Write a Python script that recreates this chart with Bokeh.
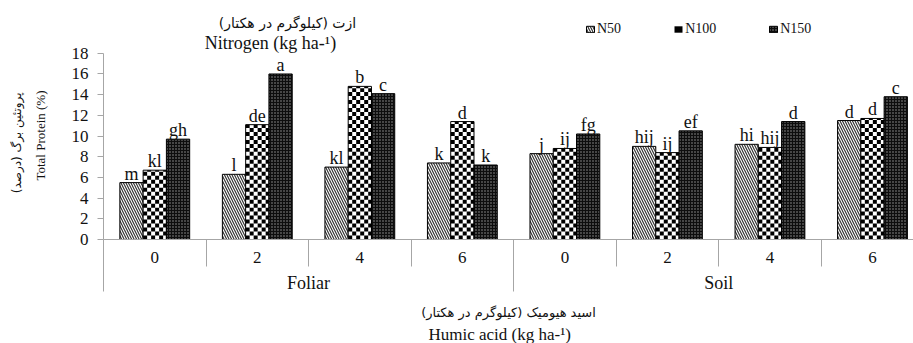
import math

from bokeh.plotting import figure
from bokeh.models import (Range1d, FixedTicker, LinearAxis, Legend, LegendItem,
                          ColumnDataSource, Title, Label)
from bokeh.core.properties import value
from bokeh.embed import file_html
from bokeh.resources import INLINE

# ---- data -------------------------------------------------------------
methods = ["Foliar", "Soil"]                      # humic acid application
doses = ["0", "2", "4", "6"]                      # humic acid rate (kg/ha)
series = ["N50", "N100", "N150"]                  # nitrogen rate

n50 = [5.5, 6.3, 7.0, 7.4, 8.3, 9.0, 9.2, 11.5]
n100 = [6.7, 11.1, 14.8, 11.4, 8.8, 8.4, 8.9, 11.7]
n150 = [9.7, 16.0, 14.1, 7.2, 10.2, 10.5, 11.4, 13.8]

let50 = ["m", "l", "kl", "k", "j", "hij", "hi", "d"]
let100 = ["kl", "de", "b", "d", "ij", "ij", "hij", "d"]
let150 = ["gh", "a", "c", "k", "fg", "ef", "d", "c"]

y_ticks = [0, 2, 4, 6, 8, 10, 12, 14, 16, 18]

# ---- layout -----------------------------------------------------------
W, H = 913, 343
FL, FR, FB = 103, 913, 240          # plot area edges (px)
Y18 = 53                            # pixel row of the 18 % tick
XMAX = 7.9
YMAX = 18
PX_PER_X = (FR - FL) / XMAX
PX_PER_Y = (FB - Y18) / YMAX
YTOP = FB / PX_PER_Y                # room above the bars for the headings

SERIF = "Liberation Serif"
PERSIAN = "DejaVu Sans"
AXIS_GRAY = "#a6a6a6"
INK = "#111111"
RLM = "\u200f"


def dx(px):
    return (px - FL) / PX_PER_X


def dy(py):
    return (FB - py) / PX_PER_Y


p = figure(width=W, height=H, output_backend="svg", toolbar_location=None,
           x_range=Range1d(0, XMAX), y_range=Range1d(0, YTOP),
           min_border_left=FL, min_border_right=W - FR,
           min_border_top=0, min_border_bottom=H - FB)
p.title_location = None
p.outline_line_color = None
p.xgrid.visible = False
p.ygrid.visible = False
p.background_fill_color = "white"
p.border_fill_color = "white"

# ---- bars ----------------------------------------------------------------
BAR_W = 0.227
n_cat = len(methods) * len(doses)
centers = [i + 0.5 for i in range(n_cat)]
bounds = [float(i) for i in range(n_cat + 1)]
x50 = [c - BAR_W for c in centers]
x100 = list(centers)
x150 = [c + BAR_W for c in centers]

src50 = ColumnDataSource(dict(x=x50, top=n50, lab=let50))
src100 = ColumnDataSource(dict(x=x100, top=n100, lab=let100))
src150 = ColumnDataSource(dict(x=x150, top=n150, lab=let150))

# N50: light diagonal hatching
r50 = p.vbar(x="x", top="top", width=BAR_W, source=src50, fill_color="white",
             hatch_pattern=value("left_diagonal_line"), hatch_color="#333333",
             hatch_scale=5, hatch_weight=1.2, line_color="black", line_width=1)

# N100: checkerboard of 4 px squares cut to each bar's height
SQ = 4
sqx, sqy = SQ / PX_PER_X, SQ / PX_PER_Y
cl, cr, cb, ct = [], [], [], []
for c, v in zip(x100, n100):
    x0, x1 = c - BAR_W / 2, c + BAR_W / 2
    for j in range(math.ceil((x1 - x0) / sqx)):
        for r in range(math.ceil(v / sqy)):
            if (j + r) % 2:
                continue
            cl.append(x0 + j * sqx)
            cr.append(min(x0 + (j + 1) * sqx, x1))
            cb.append(r * sqy)
            ct.append(min((r + 1) * sqy, v))

p.vbar(x="x", top="top", width=BAR_W, source=src100, fill_color="white", line_color=None)
r100 = p.quad(left=cl, right=cr, bottom=cb, top=ct, fill_color="black", line_color=None)
p.vbar(x="x", top="top", width=BAR_W, source=src100, fill_color=None,
       line_color="black", line_width=1)

# N150: dark fill with fine light dots
r150 = p.vbar(x="x", top="top", width=BAR_W, source=src150, fill_color="#0d0d0d",
              hatch_pattern=value("dot"), hatch_color="#9a9a9a", hatch_scale=3,
              hatch_weight=1, line_color="black", line_width=1)

# significance letters above every bar
for src in (src50, src100, src150):
    p.text(x="x", y="top", text="lab", source=src,
           text_font=value(SERIF), text_font_size="18px", text_color=INK,
           text_align="center", text_baseline="alphabetic", y_offset=-9)

# ---- value axis ---------------------------------------------------------
yax = p.yaxis[0]
yax.ticker = FixedTicker(ticks=y_ticks)
yax.bounds = (0, YMAX)
yax.axis_line_color = AXIS_GRAY
yax.major_tick_line_color = AXIS_GRAY
yax.major_tick_out = 6
yax.major_tick_in = 0
yax.minor_tick_line_color = None
yax.major_label_standoff = 9
yax.major_label_text_font = SERIF
yax.major_label_text_font_size = "17px"
yax.major_label_text_color = INK

# blank axis keeping the axis titles clear of the tick labels
spacer = LinearAxis(ticker=FixedTicker(ticks=[0]), major_label_overrides={0: ""},
                    axis_line_color=None, major_tick_line_color=None,
                    minor_tick_line_color=None, major_tick_out=21, major_tick_in=0,
                    minor_tick_out=0, major_label_standoff=0)
p.add_layout(spacer, "left")

p.add_layout(Title(text="Total Protein (%)", align="right", offset=90, standoff=0,
                   text_font=SERIF, text_font_size="13px", text_font_style="normal",
                   text_color=INK), "left")
p.add_layout(Title(text=RLM + "پروتئین برگ (درصد)" + RLM, align="right", offset=92,
                   standoff=14, text_font=PERSIAN, text_font_size="12px",
                   text_font_style="normal", text_color=INK), "left")

# ---- category axes -----------------------------------------------------
xax = p.xaxis[0]
xax.ticker = FixedTicker(ticks=centers, minor_ticks=bounds)
xax.major_label_overrides = {c: d for c, d in zip(centers, doses * len(methods))}
xax.axis_line_color = AXIS_GRAY
xax.major_tick_line_color = None
xax.major_tick_out = 0
xax.major_tick_in = 0
xax.minor_tick_line_color = AXIS_GRAY
xax.minor_tick_out = 27
xax.minor_tick_in = 0
xax.major_label_standoff = -15
xax.major_label_text_font = SERIF
xax.major_label_text_font_size = "17px"
xax.major_label_text_color = INK

group_centers = [2.0, 6.0]
group_ax = LinearAxis(ticker=FixedTicker(ticks=group_centers, minor_ticks=[0.0, 4.0, 8.0]),
                      major_label_overrides=dict(zip(group_centers, methods)))
group_ax.axis_line_color = None
group_ax.major_tick_line_color = None
group_ax.major_tick_out = 0
group_ax.major_tick_in = 0
group_ax.minor_tick_line_color = AXIS_GRAY
group_ax.minor_tick_out = 26
group_ax.minor_tick_in = 0
group_ax.major_label_standoff = -19
group_ax.major_label_text_font = SERIF
group_ax.major_label_text_font_size = "18px"
group_ax.major_label_text_color = INK
group_ax.axis_label = RLM + "اسید هیومیک (کیلوگرم در هکتار)" + RLM
group_ax.axis_label_standoff = 9
group_ax.axis_label_text_font = PERSIAN
group_ax.axis_label_text_font_size = "13px"
group_ax.axis_label_text_font_style = "normal"
group_ax.axis_label_text_color = INK
p.add_layout(group_ax, "below")

p.add_layout(Title(text="Humic acid (kg ha-¹)", align="left", offset=325, standoff=0,
                   text_font=SERIF, text_font_size="17px", text_font_style="normal",
                   text_color=INK), "below")

# ---- nitrogen heading and legend above the bars -------------------------
p.add_layout(Label(x=dx(287), y=dy(23), text=RLM + "ازت (کیلوگرم در هکتار)" + RLM,
                   text_align="center", text_baseline="middle",
                   text_font=PERSIAN, text_font_size="14px", text_color=INK))
p.add_layout(Label(x=dx(270), y=dy(43), text="Nitrogen (kg ha-¹)",
                   text_align="center", text_baseline="middle",
                   text_font=SERIF, text_font_size="18px", text_color=INK))

legend = Legend(items=[LegendItem(label=s, renderers=[r])
                       for s, r in zip(series, [r50, r100, r150])],
                orientation="horizontal", location=(482, 202),
                glyph_width=10, glyph_height=8, label_standoff=2, spacing=52,
                padding=0, margin=0, border_line_color=None,
                background_fill_alpha=0.0,
                label_text_font=SERIF, label_text_font_size="14px",
                label_text_color=INK)
p.add_layout(legend)

open("out.html", "w").write(file_html(p, INLINE))
